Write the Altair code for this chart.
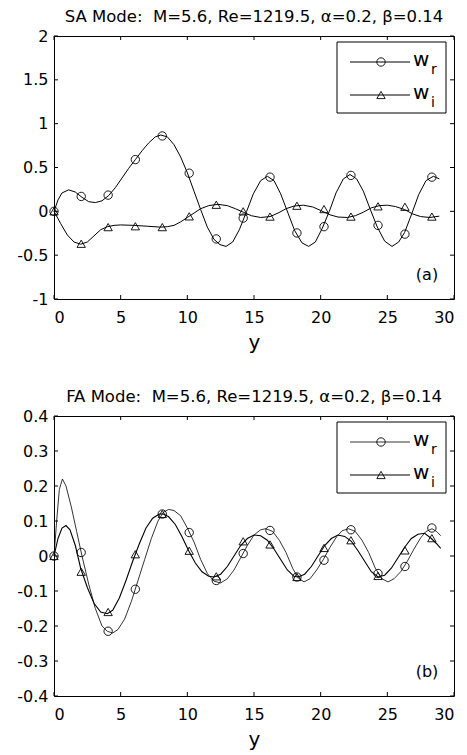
import altair as alt
import pandas as pd

FONT = "DejaVu Sans"

# ---------- axes ----------
x_ticks = [0, 5, 10, 15, 20, 25, 30]
sa_ticks = [-1, -0.5, 0, 0.5, 1, 1.5, 2]
fa_ticks = [-0.4, -0.3, -0.2, -0.1, 0, 0.1, 0.2, 0.3, 0.4]

# marker stations along y (shared by both modes)
mark_y = [0, 2.04, 4.06, 6.1, 8.12, 10.14, 12.17, 14.19, 16.2, 18.22, 20.25, 22.27, 24.3, 26.32, 28.34]

# ---------- SA mode ----------
sa_wr_line_y = [0, 0.3, 0.6, 1.1, 1.6, 2.1, 2.6, 3.1, 3.6, 4.1, 4.6, 5.1, 5.6, 6.1, 6.6, 7.1,
                7.6, 8.0, 8.5, 9.0, 9.5, 10.0, 10.5, 11.0, 11.5, 12.0, 12.45, 12.9, 13.4, 13.9,
                14.45, 14.95, 15.5, 16.0, 16.5, 17.0, 17.55, 18.05, 18.6, 19.1, 19.6, 20.1,
                20.65, 21.15, 21.7, 22.2, 22.7, 23.2, 23.7, 24.25, 24.8, 25.35, 25.85, 26.3,
                26.85, 27.35, 27.9, 28.45, 28.9]
sa_wr_line_v = [0, 0.13, 0.21, 0.245, 0.22, 0.16, 0.11, 0.10, 0.12, 0.18, 0.27, 0.38, 0.49,
                0.59, 0.69, 0.78, 0.85, 0.87, 0.85, 0.76, 0.62, 0.44, 0.23, 0.02, -0.18, -0.32,
                -0.38, -0.40, -0.35, -0.21, 0.0, 0.20, 0.35, 0.40, 0.35, 0.20, -0.02, -0.22,
                -0.36, -0.40, -0.35, -0.20, 0.0, 0.21, 0.37, 0.42, 0.37, 0.23, 0.03, -0.18,
                -0.34, -0.40, -0.35, -0.24, -0.02, 0.19, 0.35, 0.40, 0.37]

sa_wi_line_y = [0, 0.5, 1.0, 1.5, 2.0, 2.5, 3.0, 3.5, 4.0, 4.5, 5.0, 6.0, 7.0, 8.0, 8.5, 9.0,
                9.5, 10.0, 10.5, 11.0, 11.6, 12.3, 13.0, 13.6, 14.2, 14.8, 15.5, 16.2, 16.8,
                17.4, 18.0, 18.7, 19.4, 20.0, 20.7, 21.3, 22.0, 22.6, 23.2, 23.8, 24.4, 25.0,
                25.6, 26.3, 26.9, 27.5, 28.2, 28.9]
sa_wi_line_v = [0, -0.14, -0.27, -0.35, -0.375, -0.35, -0.28, -0.21, -0.175, -0.16, -0.155,
                -0.16, -0.17, -0.18, -0.175, -0.16, -0.12, -0.07, -0.02, 0.03, 0.065, 0.08,
                0.065, 0.03, -0.01, -0.05, -0.07, -0.06, -0.02, 0.03, 0.06, 0.07, 0.05, 0.01,
                -0.04, -0.065, -0.07, -0.05, -0.01, 0.04, 0.065, 0.07, 0.055, 0.02, -0.03,
                -0.06, -0.07, -0.055]

sa_wr_mark = [0, 0.17, 0.185, 0.59, 0.86, 0.435, -0.315, -0.077, 0.39, -0.247, -0.175, 0.41,
              -0.16, -0.26, 0.39]
sa_wi_mark = [0, -0.37, -0.18, -0.17, -0.18, -0.057, 0.075, 0.0, -0.06, 0.064, 0.026, -0.06,
              0.057, 0.052, -0.06]

# ---------- FA mode ----------
fa_wr_line_y = [0, 0.2, 0.4, 0.63, 0.9, 1.3, 1.7, 2.1, 2.6, 3.1, 3.6, 4.0, 4.4, 4.8, 5.3, 5.8,
                6.3, 6.8, 7.3, 7.8, 8.2, 8.6, 9.0, 9.5, 10.0, 10.5, 11.0, 11.5, 12.0, 12.5,
                13.0, 13.5, 14.0, 14.5, 15.0, 15.5, 15.9, 16.4, 16.9, 17.4, 17.9, 18.3, 18.75,
                19.2, 19.7, 20.2, 20.7, 21.2, 21.6, 22.1, 22.6, 23.1, 23.6, 24.1, 24.6, 25.05,
                25.5, 26.0, 26.5, 27.0, 27.5, 27.9, 28.35, 28.7, 29.0]
fa_wr_line_v = [0, 0.1, 0.19, 0.22, 0.2, 0.14, 0.07, 0.0, -0.08, -0.15, -0.2, -0.215, -0.22,
                -0.21, -0.18, -0.13, -0.07, -0.01, 0.05, 0.1, 0.125, 0.133, 0.13, 0.115, 0.08,
                0.04, -0.01, -0.05, -0.072, -0.077, -0.065, -0.04, -0.005, 0.03, 0.06, 0.075,
                0.078, 0.07, 0.045, 0.01, -0.035, -0.062, -0.074, -0.065, -0.04, -0.01, 0.025,
                0.055, 0.072, 0.078, 0.07, 0.045, 0.01, -0.035, -0.065, -0.074, -0.065, -0.045,
                -0.015, 0.02, 0.052, 0.07, 0.078, 0.07, 0.058]

fa_wi_line_y = [0, 0.3, 0.6, 0.9, 1.2, 1.6, 2.0, 2.5, 3.0, 3.5, 4.0, 4.4, 4.9, 5.4, 5.9, 6.4,
                6.9, 7.4, 7.9, 8.2, 8.6, 9.1, 9.6, 10.1, 10.6, 11.1, 11.6, 12.0, 12.5, 13.0,
                13.5, 14.0, 14.5, 15.0, 15.5, 16.0, 16.5, 17.0, 17.5, 18.0, 18.3, 18.8, 19.3,
                19.8, 20.3, 20.8, 21.3, 21.8, 22.3, 22.8, 23.3, 23.8, 24.3, 24.8, 25.3, 25.8,
                26.3, 26.8, 27.3, 27.8, 28.3, 28.7, 29.0]
fa_wi_line_v = [0, 0.05, 0.08, 0.087, 0.075, 0.03, -0.035, -0.09, -0.135, -0.16, -0.165,
                -0.155, -0.12, -0.07, -0.015, 0.035, 0.08, 0.108, 0.12, 0.12, 0.112, 0.09,
                0.055, 0.015, -0.02, -0.045, -0.058, -0.06, -0.052, -0.03, 0.0, 0.03, 0.05,
                0.06, 0.058, 0.045, 0.02, -0.01, -0.04, -0.058, -0.06, -0.052, -0.03, 0.0, 0.03,
                0.05, 0.06, 0.056, 0.042, 0.015, -0.015, -0.045, -0.06, -0.055, -0.035, -0.005,
                0.025, 0.05, 0.062, 0.065, 0.05, 0.035, 0.022]

fa_wr_mark = [0, 0.01, -0.215, -0.095, 0.12, 0.067, -0.07, 0.007, 0.073, -0.06, -0.012, 0.075,
              -0.05, -0.03, 0.08]
fa_wi_mark = [0, -0.045, -0.16, 0.005, 0.12, 0.015, -0.058, 0.042, 0.033, -0.06, 0.023, 0.045,
              -0.057, 0.016, 0.051]

W = 400
LABEL = dict(labelFont=FONT, labelFontSize=16, labelColor="black", labelOverlap=False,
             labelExpr="toString(datum.value)", domain=False, ticks=False, grid=False)


def panel(title, tag, domain, ticks, height,
          wr_y, wr_v, wi_y, wi_v, wr_m, wi_m, wr_w, wi_w):
    xs = alt.Scale(domain=[0, 30], nice=False, zero=False)
    ys = alt.Scale(domain=domain, nice=False, zero=False)
    x_ax = alt.Axis(values=x_ticks, title="y", labelPadding=10, titlePadding=7,
                    titleFontSize=20, titleFontWeight="normal", titleFont=FONT,
                    titleColor="black", **LABEL)
    y_ax = alt.Axis(values=ticks, title=None, labelPadding=6, minExtent=40, maxExtent=40,
                    **LABEL)

    def X(field):
        return alt.X(f"{field}:Q", scale=xs, axis=x_ax)

    def Y(field):
        return alt.Y(f"{field}:Q", scale=ys, axis=y_ax)

    wr_line = pd.DataFrame({"y": wr_y, "v": wr_v})
    wi_line = pd.DataFrame({"y": wi_y, "v": wi_v})
    marks = pd.DataFrame({"y": mark_y, "wr": wr_m, "wi": wi_m})

    l_wr = alt.Chart(wr_line).mark_line(color="black", strokeWidth=wr_w).encode(
        x=X("y"), y=Y("v"))
    l_wi = alt.Chart(wi_line).mark_line(color="black", strokeWidth=wi_w).encode(
        x=X("y"), y=Y("v"))
    p_wr = alt.Chart(marks).mark_point(shape="circle", filled=False, color="black",
                                      size=70, strokeWidth=0.9, opacity=1).encode(
        x=X("y"), y=Y("wr"))
    p_wi = alt.Chart(marks).mark_point(shape="triangle-up", filled=False, color="black",
                                      size=70, strokeWidth=0.9, opacity=1).encode(
        x=X("y"), y=Y("wi"))

    # inward ticks on all four sides
    yt = pd.DataFrame({"t": ticks})
    xt = pd.DataFrame({"t": x_ticks})
    tk = dict(color="black", strokeWidth=1)
    t_left = alt.Chart(yt).mark_rule(**tk).encode(
        y=Y("t"), x=alt.value(0), x2=alt.value(4))
    t_right = alt.Chart(yt).mark_rule(**tk).encode(
        y=Y("t"), x=alt.value(W - 4), x2=alt.value(W))
    t_bot = alt.Chart(xt).mark_rule(**tk).encode(
        x=X("t"), y=alt.value(height - 4), y2=alt.value(height))
    t_top = alt.Chart(xt).mark_rule(**tk).encode(
        x=X("t"), y=alt.value(0), y2=alt.value(4))

    # legend box
    one = pd.DataFrame({"k": [0]})
    box = alt.Chart(one).mark_rect(fill="white", stroke="black", strokeWidth=1).encode(
        x=alt.value(283), x2=alt.value(392), y=alt.value(6), y2=alt.value(77))
    leg = [box]
    for ry, shape, sub, lw in [(26, "circle", "r", wr_w), (59, "triangle-up", "i", wi_w)]:
        leg.append(alt.Chart(one).mark_rule(color="black", strokeWidth=lw).encode(
            x=alt.value(296), x2=alt.value(356), y=alt.value(ry)))
        leg.append(alt.Chart(one).mark_point(shape=shape, filled=False, color="black",
                                             size=70, strokeWidth=0.9, opacity=1).encode(
            x=alt.value(327), y=alt.value(ry)))
        leg.append(alt.Chart(one).mark_text(text="w", font=FONT, fontSize=20, align="left",
                                            baseline="middle", color="black").encode(
            x=alt.value(359), y=alt.value(ry - 2)))
        leg.append(alt.Chart(one).mark_text(text=sub, font=FONT, fontSize=14, align="left",
                                            baseline="middle", color="black").encode(
            x=alt.value(377), y=alt.value(ry + 8)))

    lab = alt.Chart(one).mark_text(text=tag, font=FONT, fontSize=16, align="center",
                                   baseline="middle", color="black").encode(
        x=alt.value(373), y=alt.value(height - 24))

    return alt.layer(l_wr, l_wi, p_wr, p_wi, t_left, t_right, t_bot, t_top, *leg, lab).properties(
        width=W, height=height,
        title=alt.TitleParams(title, font=FONT, fontSize=16.5, fontWeight="normal",
                              color="black", anchor="middle", offset=3))


top = panel("SA Mode: \u00a0M=5.6, Re=1219.5, \u03b1=0.2, \u03b2=0.14", "(a)", [-1, 2],
            sa_ticks, 263,
            sa_wr_line_y, sa_wr_line_v, sa_wi_line_y, sa_wi_line_v, sa_wr_mark, sa_wi_mark,
            1.0, 1.0)
bottom = panel("FA Mode: \u00a0M=5.6, Re=1219.5, \u03b1=0.2, \u03b2=0.14", "(b)", [-0.4, 0.4],
               fa_ticks, 280,
               fa_wr_line_y, fa_wr_line_v, fa_wi_line_y, fa_wi_line_v, fa_wr_mark, fa_wi_mark,
               0.8, 1.1)

chart = alt.vconcat(top, bottom, spacing=35).properties(
    padding={"left": 13, "top": 8, "right": 5, "bottom": 5}
).configure(background="white").configure_view(stroke="black", strokeWidth=1)

chart.save("out.html", embed_options={"renderer": "svg", "actions": False})
